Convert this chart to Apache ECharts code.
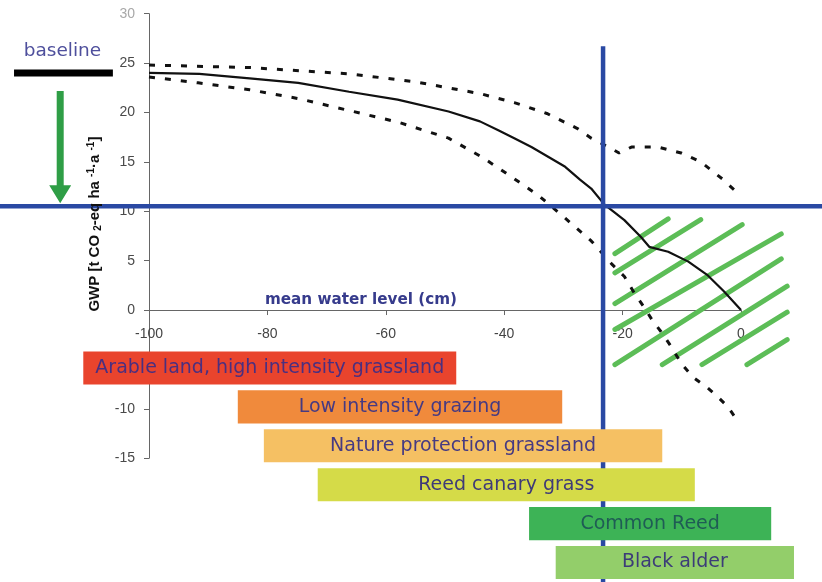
<!DOCTYPE html>
<html>
<head>
<meta charset="utf-8">
<script src="https://cdn.jsdelivr.net/npm/echarts@6/dist/echarts.min.js"></script>
<style>
  html, body { margin: 0; padding: 0; background: #ffffff; }
  #chart { width: 822px; height: 582px; }
</style>
</head>
<body>
<div id="chart"></div>
<script>
// GWP of peatland use as a function of mean water level

// central estimate
const centralLevel = [-100, -91.5, -83, -74.8, -66.2, -58, -49.4, -44.1, -41, -38.3, -35.4, -32.8, -29.7, -27.2, -25.3, -23.1, -19.7, -16.9, -15.5, -12.3, -8.9, -5.6, -2.9, 0];
const centralGWP   = [24.0, 23.9, 23.45, 23.0, 22.1, 21.3, 20.1, 19.1, 18.2, 17.4, 16.5, 15.6, 14.5, 13.2, 12.3, 10.7, 9.1, 7.4, 6.4, 5.9, 4.9, 3.5, 1.9, 0];

// upper confidence bound
const upperLevel = [-100, -83, -66, -55, -44, -38.3, -32.8, -27.7, -25.3, -22.4, -20.6, -18.5, -14, -10.1, -6.8, -3, -0.5];
const upperGWP   = [24.8, 24.55, 23.9, 23.1, 21.9, 21.0, 19.9, 18.4, 17.4, 16.5, 15.9, 16.5, 16.5, 15.9, 15.0, 13.2, 11.8];

// lower confidence bound
const lowerLevel = [-100, -91.7, -83, -74.7, -66.2, -57.8, -49.4, -43.8, -39.3, -34.2, -29.7, -25.3, -21.9, -19.7, -18, -16.4, -14.8, -13.5, -11.8, -10.1, -8.1, -5.6, -3.9, -2.2, -0.5];
const lowerGWP   = [23.6, 23.0, 22.3, 21.4, 20.2, 19.0, 17.4, 15.5, 13.7, 11.6, 9.3, 7.0, 4.7, 3.4, 1.7, 0.3, -1.2, -2.2, -3.7, -5.4, -6.8, -7.9, -8.8, -9.8, -11.3];

// baseline and target
const baselineGWP = 24.0;
const targetLevel = -23.3;
const targetGWP = 10.5;

// hatched target zone (water level, GWP)
const hatchFrom = [[-21.3, 5.72], [-21.3, 3.77], [-21.3, 0.66], [-21.3, -1.97], [-21.3, -5.52], [-13.3, -5.52], [-6.6, -5.52], [1.0, -5.52]];
const hatchTo   = [[-12.3, 9.23], [-6.8, 9.16], [0.2, 8.65], [6.8, 7.71], [6.8, 5.18], [7.8, 2.41], [7.8, -0.22], [7.8, -2.99]];

// land use ranges along the water level (cm)
const landUse     = ['Arable land, high intensity grassland', 'Low intensity grazing', 'Nature protection grassland', 'Reed canary grass', 'Common Reed', 'Black alder'];
const landUseFrom = [-111.1, -85.0, -80.6, -71.5, -35.8, -31.3];
const landUseTo   = [-48.1, -30.2, -13.3, -7.8, 5.1, 8.95];

// axis ticks
const levelTicks = { min: -100, max: 0, step: 20 };
const gwpTicks = { min: -15, max: 30, step: 5 };

// styling
const landUseFill = ['#e9442d', '#f08a3c', '#f5c063', '#d5db48', '#3db356', '#93ce6a'];
const landUseInk  = ['#4a2f80', '#463a82', '#463a82', '#3e3a78', '#1f5c55', '#3c3c78'];
const BLUE = '#2a49a3';
const HATCH = '#5cbd57';
const ARROW = '#2f9e46';
const LABEL_FONT = '"DejaVu Sans", sans-serif';
const AXIS_FONT = '"Liberation Sans", Arial, sans-serif';

const GRID_TOP = 13.7, GRID_BOTTOM = 123.8, CHART_H = 582;
const plotH = CHART_H - GRID_TOP - GRID_BOTTOM;
// the water level axis runs along GWP = 0
const levelAxisOffset = -plotH * (0 - gwpTicks.min) / (gwpTicks.max - gwpTicks.min);

const zip = (a, b) => a.map((v, i) => [v, b[i]]);

const chart = echarts.init(document.getElementById('chart'), null, { renderer: 'canvas' });

const option = {
  animation: false,
  backgroundColor: '#ffffff',
  grid: [
    { left: 149, right: 81, top: GRID_TOP, bottom: GRID_BOTTOM },
    { left: 149, right: 81, top: 348.5, height: 237 }
  ],
  xAxis: [
    {
      type: 'value', gridIndex: 0, position: 'bottom', offset: levelAxisOffset,
      min: levelTicks.min, max: levelTicks.max, interval: levelTicks.step,
      axisLine: { onZero: false, lineStyle: { color: '#666', width: 1 } },
      axisTick: { show: true, length: 5, lineStyle: { color: '#666' } },
      axisLabel: { color: '#444', fontSize: 14, fontFamily: AXIS_FONT, margin: 17 },
      splitLine: { show: false }
    },
    { type: 'value', gridIndex: 1, min: levelTicks.min, max: levelTicks.max, show: false }
  ],
  yAxis: [
    {
      type: 'value', gridIndex: 0,
      min: gwpTicks.min, max: gwpTicks.max, interval: gwpTicks.step,
      axisLine: { show: true, onZero: false, lineStyle: { color: '#666', width: 1 } },
      axisTick: { show: true, length: 5, lineStyle: { color: '#666' } },
      axisLabel: {
        color: '#4a4a4a', fontSize: 14, fontFamily: AXIS_FONT, margin: 14,
        formatter: v => (v === gwpTicks.max ? '{light|' + v + '}' : String(v)),
        rich: { light: { color: '#a8a8a8', fontSize: 14, fontFamily: AXIS_FONT } }
      },
      splitLine: { show: false }
    },
    { type: 'category', gridIndex: 1, data: landUse, inverse: true, show: false }
  ],
  series: [
    // hatched target zone
    {
      type: 'custom', xAxisIndex: 0, yAxisIndex: 0, clip: false, silent: true, z: 2,
      data: hatchFrom.map((p, i) => [p[0], p[1], hatchTo[i][0], hatchTo[i][1]]),
      renderItem(params, api) {
        const a = api.coord([api.value(0), api.value(1)]);
        const b = api.coord([api.value(2), api.value(3)]);
        return {
          type: 'line',
          shape: { x1: a[0], y1: a[1], x2: b[0], y2: b[1] },
          style: { stroke: HATCH, lineWidth: 5, lineCap: 'round' }
        };
      }
    },
    {
      type: 'line', xAxisIndex: 0, yAxisIndex: 0, z: 3,
      data: zip(upperLevel, upperGWP), showSymbol: false, silent: true,
      lineStyle: { color: '#111', width: 3, type: [6, 10], cap: 'butt' }
    },
    {
      type: 'line', xAxisIndex: 0, yAxisIndex: 0, z: 3,
      data: zip(lowerLevel, lowerGWP), showSymbol: false, silent: true,
      lineStyle: { color: '#111', width: 3, type: [6, 10], cap: 'butt' }
    },
    {
      type: 'line', xAxisIndex: 0, yAxisIndex: 0, z: 3,
      data: zip(centralLevel, centralGWP), showSymbol: false, silent: true,
      lineStyle: { color: '#111', width: 2.2 }
    },
    // target water level and target GWP
    {
      type: 'custom', xAxisIndex: 0, yAxisIndex: 0, clip: false, silent: true, z: 4,
      data: [[targetLevel, targetGWP]],
      renderItem(params, api) {
        const c = api.coord([api.value(0), api.value(1)]);
        const top = api.coord([api.value(0), 26.7])[1];
        return {
          type: 'group',
          children: [
            { type: 'line', shape: { x1: 0, y1: c[1], x2: api.getWidth(), y2: c[1] },
              style: { stroke: BLUE, lineWidth: 4.5 } },
            { type: 'line', shape: { x1: c[0], y1: top, x2: c[0], y2: api.getHeight() },
              style: { stroke: BLUE, lineWidth: 4.5 } }
          ]
        };
      }
    },
    // baseline, arrow and texts
    {
      type: 'custom', xAxisIndex: 0, yAxisIndex: 0, clip: false, silent: true, z: 4,
      data: [[baselineGWP, targetGWP]],
      renderItem(params, api) {
        const b0 = api.coord([-122.8, api.value(0)]);
        const b1 = api.coord([-106.1, api.value(0)]);
        const ax = api.coord([-115.0, api.value(0)])[0];
        const shaftTop = b0[1] + 18;
        const tip = api.coord([-115.0, api.value(1)])[1] - 3;
        const headTop = tip - 18;
        const sw = 3.5, hw = 11;
        const origin = api.coord([levelTicks.min, 0]);
        const yName = api.coord([levelTicks.min, 8.7]);
        const mwl = api.coord([-64.2, 0]);
        return {
          type: 'group',
          children: [
            { type: 'line', shape: { x1: b0[0], y1: b0[1], x2: b1[0], y2: b1[1] },
              style: { stroke: '#000', lineWidth: 7 } },
            { type: 'text', x: (b0[0] + b1[0]) / 2 - 1, y: b0[1] - 21.5,
              style: { text: 'baseline', fill: '#4e4f9c', font: '18.5px ' + LABEL_FONT,
                       align: 'center', verticalAlign: 'middle' } },
            { type: 'polygon',
              shape: { points: [
                [ax - sw, shaftTop], [ax + sw, shaftTop], [ax + sw, headTop], [ax + hw, headTop],
                [ax, tip], [ax - hw, headTop], [ax - sw, headTop]
              ] },
              style: { fill: ARROW } },
            { type: 'text', x: mwl[0], y: mwl[1] - 10,
              style: { text: 'mean water level (cm)', fill: '#363b8c',
                       font: 'bold 15.2px ' + LABEL_FONT, align: 'center', verticalAlign: 'middle' } },
            { type: 'text', x: origin[0] - 54, y: yName[1], rotation: Math.PI / 2,
              style: {
                text: 'GWP [t CO {sub|2}-eq ha {sup|-1}·a {sup|-1}]',
                fill: '#111', font: 'bold 15px ' + AXIS_FONT, align: 'center', verticalAlign: 'middle',
                lineHeight: 17,
                rich: {
                  sub: { fontSize: 10, fontWeight: 'bold', fontFamily: AXIS_FONT, fill: '#111', verticalAlign: 'bottom', lineHeight: 17 },
                  sup: { fontSize: 10, fontWeight: 'bold', fontFamily: AXIS_FONT, fill: '#111', verticalAlign: 'top', lineHeight: 17 }
                }
              } }
          ]
        };
      }
    },
    // land use bars
    {
      type: 'custom', xAxisIndex: 1, yAxisIndex: 1, clip: false, silent: true, z: 10,
      encode: { x: [0, 1], y: 2 },
      data: landUse.map((name, i) => [landUseFrom[i], landUseTo[i], i]),
      renderItem(params, api) {
        const i = params.dataIndex;
        const a = api.coord([api.value(0), api.value(2)]);
        const b = api.coord([api.value(1), api.value(2)]);
        const h = api.size([0, 1])[1] * 0.85;
        return {
          type: 'group',
          children: [
            { type: 'rect', shape: { x: a[0], y: a[1] - h / 2, width: b[0] - a[0], height: h },
              style: { fill: landUseFill[i] } },
            { type: 'text', x: (a[0] + b[0]) / 2, y: a[1],
              style: { text: landUse[i], fill: landUseInk[i], font: '19px ' + LABEL_FONT,
                       align: 'center', verticalAlign: 'middle' } }
          ]
        };
      }
    }
  ]
};

chart.setOption(option);
</script>
</body>
</html>
